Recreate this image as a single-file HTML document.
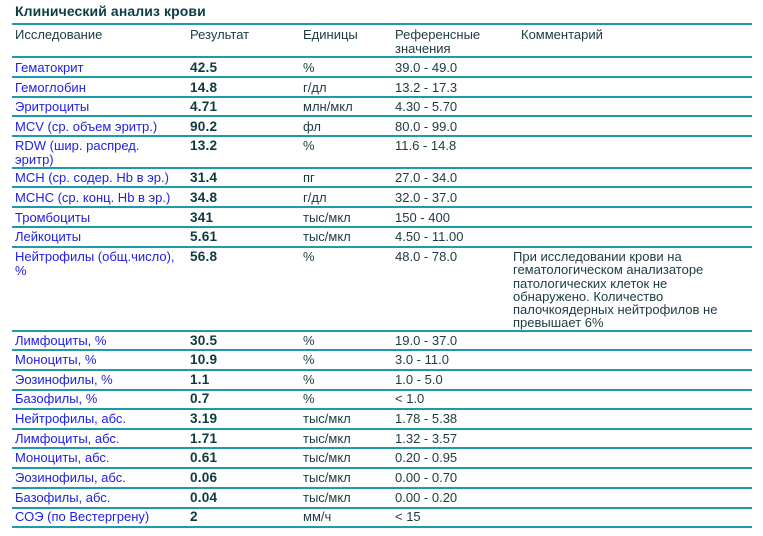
<!DOCTYPE html>
<html>
<head>
<meta charset="utf-8">
<style>
  html,body{margin:0;padding:0;background:#fff;}
  body{width:763px;height:536px;position:relative;overflow:hidden;
       font-family:"Liberation Sans","DejaVu Sans",sans-serif;font-size:13px;color:#1c3a42;}
  .t{position:absolute;line-height:13.5px;white-space:nowrap;}
  .ln{position:absolute;left:12px;width:740px;height:2px;background:#1f9aab;}
  .n{color:#2020e6;}
  .r{font-weight:bold;color:#0c3a40;font-size:13.6px;letter-spacing:0.2px;}
  .title{position:absolute;left:15px;top:4px;font-weight:bold;color:#0d3c46;font-size:14px;line-height:15px;white-space:nowrap;letter-spacing:0.1px;}
</style>
</head>
<body>
<div class="title">Клинический анализ крови</div>

<!-- lines -->
<div class="ln" style="top:23.3px"></div>
<div class="ln" style="top:56.3px"></div>
<div class="ln" style="top:76px"></div>
<div class="ln" style="top:95.5px"></div>
<div class="ln" style="top:115px"></div>
<div class="ln" style="top:134.7px"></div>
<div class="ln" style="top:166.7px"></div>
<div class="ln" style="top:186.3px"></div>
<div class="ln" style="top:206px"></div>
<div class="ln" style="top:225.6px"></div>
<div class="ln" style="top:245.5px"></div>
<div class="ln" style="top:329.8px"></div>
<div class="ln" style="top:349.4px"></div>
<div class="ln" style="top:369px"></div>
<div class="ln" style="top:388.6px"></div>
<div class="ln" style="top:408.2px"></div>
<div class="ln" style="top:427.8px"></div>
<div class="ln" style="top:447.4px"></div>
<div class="ln" style="top:467px"></div>
<div class="ln" style="top:486.7px"></div>
<div class="ln" style="top:506.5px"></div>
<div class="ln" style="top:526.3px"></div>

<!-- header -->
<div class="t" style="left:15px;top:28px">Исследование</div>
<div class="t" style="left:190px;top:28px">Результат</div>
<div class="t" style="left:303px;top:28px">Единицы</div>
<div class="t" style="left:395px;top:28px">Референсные<br>значения</div>
<div class="t" style="left:521px;top:28px">Комментарий</div>

<!-- rows -->
<div class="t n" style="left:15px;top:61px">Гематокрит</div>
<div class="t r" style="left:190px;top:61px">42.5</div>
<div class="t" style="left:303px;top:61px">%</div>
<div class="t" style="left:395px;top:61px">39.0 - 49.0</div>

<div class="t n" style="left:15px;top:80.6px">Гемоглобин</div>
<div class="t r" style="left:190px;top:80.6px">14.8</div>
<div class="t" style="left:303px;top:80.6px">г/дл</div>
<div class="t" style="left:395px;top:80.6px">13.2 - 17.3</div>

<div class="t n" style="left:15px;top:100.2px">Эритроциты</div>
<div class="t r" style="left:190px;top:100.2px">4.71</div>
<div class="t" style="left:303px;top:100.2px">млн/мкл</div>
<div class="t" style="left:395px;top:100.2px">4.30 - 5.70</div>

<div class="t n" style="left:15px;top:119.8px">MCV (ср. объем эритр.)</div>
<div class="t r" style="left:190px;top:119.8px">90.2</div>
<div class="t" style="left:303px;top:119.8px">фл</div>
<div class="t" style="left:395px;top:119.8px">80.0 - 99.0</div>

<div class="t n" style="left:15px;top:139.4px">RDW (шир. распред.<br>эритр)</div>
<div class="t r" style="left:190px;top:139.4px">13.2</div>
<div class="t" style="left:303px;top:139.4px">%</div>
<div class="t" style="left:395px;top:139.4px">11.6 - 14.8</div>

<div class="t n" style="left:15px;top:171.4px">MCH (ср. содер. Hb в эр.)</div>
<div class="t r" style="left:190px;top:171.4px">31.4</div>
<div class="t" style="left:303px;top:171.4px">пг</div>
<div class="t" style="left:395px;top:171.4px">27.0 - 34.0</div>

<div class="t n" style="left:15px;top:191px">MCHC (ср. конц. Hb в эр.)</div>
<div class="t r" style="left:190px;top:191px">34.8</div>
<div class="t" style="left:303px;top:191px">г/дл</div>
<div class="t" style="left:395px;top:191px">32.0 - 37.0</div>

<div class="t n" style="left:15px;top:210.6px">Тромбоциты</div>
<div class="t r" style="left:190px;top:210.6px">341</div>
<div class="t" style="left:303px;top:210.6px">тыс/мкл</div>
<div class="t" style="left:395px;top:210.6px">150 - 400</div>

<div class="t n" style="left:15px;top:230.2px">Лейкоциты</div>
<div class="t r" style="left:190px;top:230.2px">5.61</div>
<div class="t" style="left:303px;top:230.2px">тыс/мкл</div>
<div class="t" style="left:395px;top:230.2px">4.50 - 11.00</div>

<div class="t n" style="left:15px;top:250px">Нейтрофилы (общ.число),<br>%</div>
<div class="t r" style="left:190px;top:250px">56.8</div>
<div class="t" style="left:303px;top:250px">%</div>
<div class="t" style="left:395px;top:250px">48.0 - 78.0</div>
<div class="t" style="left:513px;top:250px;line-height:13.3px">При исследовании крови на<br>гематологическом анализаторе<br>патологических клеток не<br>обнаружено. Количество<br>палочкоядерных нейтрофилов не<br>превышает 6%</div>

<div class="t n" style="left:15px;top:333.6px">Лимфоциты, %</div>
<div class="t r" style="left:190px;top:333.6px">30.5</div>
<div class="t" style="left:303px;top:333.6px">%</div>
<div class="t" style="left:395px;top:333.6px">19.0 - 37.0</div>

<div class="t n" style="left:15px;top:353.2px">Моноциты, %</div>
<div class="t r" style="left:190px;top:353.2px">10.9</div>
<div class="t" style="left:303px;top:353.2px">%</div>
<div class="t" style="left:395px;top:353.2px">3.0 - 11.0</div>

<div class="t n" style="left:15px;top:372.8px">Эозинофилы, %</div>
<div class="t r" style="left:190px;top:372.8px">1.1</div>
<div class="t" style="left:303px;top:372.8px">%</div>
<div class="t" style="left:395px;top:372.8px">1.0 - 5.0</div>

<div class="t n" style="left:15px;top:392.4px">Базофилы, %</div>
<div class="t r" style="left:190px;top:392.4px">0.7</div>
<div class="t" style="left:303px;top:392.4px">%</div>
<div class="t" style="left:395px;top:392.4px">&lt; 1.0</div>

<div class="t n" style="left:15px;top:412px">Нейтрофилы, абс.</div>
<div class="t r" style="left:190px;top:412px">3.19</div>
<div class="t" style="left:303px;top:412px">тыс/мкл</div>
<div class="t" style="left:395px;top:412px">1.78 - 5.38</div>

<div class="t n" style="left:15px;top:431.6px">Лимфоциты, абс.</div>
<div class="t r" style="left:190px;top:431.6px">1.71</div>
<div class="t" style="left:303px;top:431.6px">тыс/мкл</div>
<div class="t" style="left:395px;top:431.6px">1.32 - 3.57</div>

<div class="t n" style="left:15px;top:451.2px">Моноциты, абс.</div>
<div class="t r" style="left:190px;top:451.2px">0.61</div>
<div class="t" style="left:303px;top:451.2px">тыс/мкл</div>
<div class="t" style="left:395px;top:451.2px">0.20 - 0.95</div>

<div class="t n" style="left:15px;top:470.8px">Эозинофилы, абс.</div>
<div class="t r" style="left:190px;top:470.8px">0.06</div>
<div class="t" style="left:303px;top:470.8px">тыс/мкл</div>
<div class="t" style="left:395px;top:470.8px">0.00 - 0.70</div>

<div class="t n" style="left:15px;top:490.5px">Базофилы, абс.</div>
<div class="t r" style="left:190px;top:490.5px">0.04</div>
<div class="t" style="left:303px;top:490.5px">тыс/мкл</div>
<div class="t" style="left:395px;top:490.5px">0.00 - 0.20</div>

<div class="t n" style="left:15px;top:510.3px">СОЭ (по Вестергрену)</div>
<div class="t r" style="left:190px;top:510.3px">2</div>
<div class="t" style="left:303px;top:510.3px">мм/ч</div>
<div class="t" style="left:395px;top:510.3px">&lt; 15</div>
</body>
</html>
